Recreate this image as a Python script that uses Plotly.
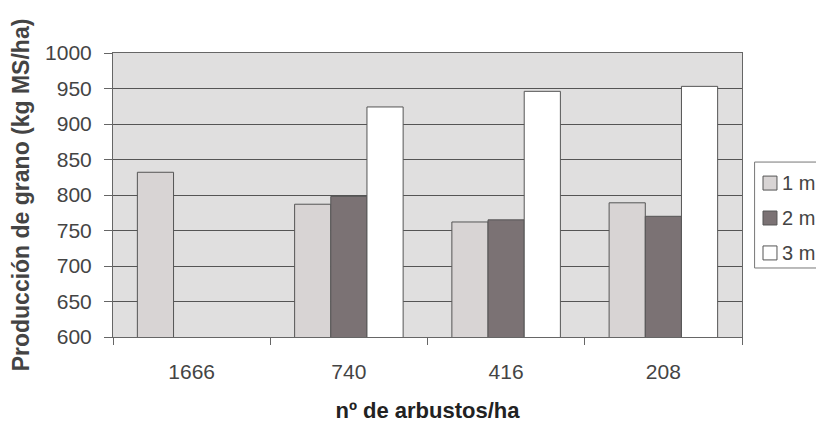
import plotly.graph_objects as go

# shrub density categories and grain production per spacing
categories = ["1666", "740", "416", "208"]
series_names = ["1 m", "2 m", "3 m"]
values_1m = [832, 787, 762, 789]
values_2m = [None, 798, 765, 770]
values_3m = [None, 924, 946, 953]

bar_colors = ["#d8d4d4", "#7b7274", "#ffffff"]
font_family = "Liberation Sans, Arial, sans-serif"

fig = go.Figure()
for name, vals, color in zip(series_names, [values_1m, values_2m, values_3m], bar_colors):
    fig.add_trace(go.Bar(
        x=categories,
        y=vals,
        name=name,
        showlegend=False,
        marker=dict(color=color, line=dict(color="#555555", width=1)),
    ))

# legend drawn by hand so it can sit tight against the right edge
# (positions in paper units of the plot area)
fig.add_shape(type="rect", xref="paper", yref="paper",
              x0=1.020, x1=1.25, y0=0.243, y1=0.616,
              line=dict(color="#777777", width=1), fillcolor="white", layer="above")
item_y = [0.542, 0.419, 0.296]
for name, color, yy in zip(series_names, bar_colors, item_y):
    fig.add_shape(type="rect", xref="paper", yref="paper",
                  x0=1.0334, x1=1.0556, y0=yy - 0.0246, y1=yy + 0.0246,
                  line=dict(color="#555555", width=1), fillcolor=color, layer="above")
    fig.add_annotation(text=name, xref="paper", yref="paper", x=1.061, y=yy,
                       xanchor="left", yanchor="middle", showarrow=False,
                       font=dict(size=20, color="#444444"))

# page has an 8px body margin; figure is wider than the window so the
# legend box runs off the right edge like in the original
fig.update_layout(
    width=860,
    height=423,
    barmode="group",
    bargap=0.31,
    bargroupgap=0,
    paper_bgcolor="white",
    plot_bgcolor="#e0dfdf",
    margin=dict(l=105, r=126, t=45, b=94),
    font=dict(family=font_family, size=21, color="#444444"),
)

fig.update_xaxes(
    type="category",
    showline=True, linecolor="#666666", linewidth=1, mirror=True,
    ticks="outside", tickson="boundaries", ticklen=7, tickcolor="#666666",
    ticklabelstandoff=16,
    showgrid=False, automargin=False,
    title=dict(text="<b>nº de arbustos/ha</b>", font=dict(size=22, color="#222222"), standoff=20),
)
fig.update_yaxes(
    range=[600, 1000], dtick=50,
    showline=True, linecolor="#666666", linewidth=1, mirror=True,
    ticks="outside", ticklen=8, tickcolor="#666666",
    ticklabelstandoff=8,
    showgrid=True, gridcolor="#555555", gridwidth=1, automargin=False,
    title=dict(text="<b>Producción de grano (kg MS/ha)</b>", font=dict(size=23, color="#444444"), standoff=10),
)

fig.write_html("out.html")
